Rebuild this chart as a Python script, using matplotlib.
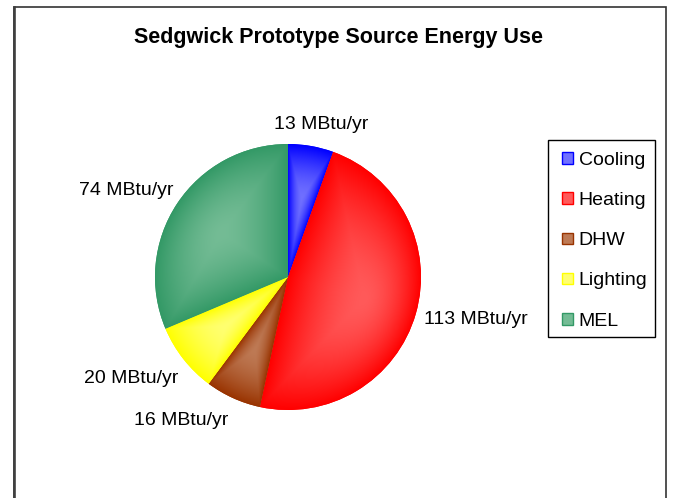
import numpy as np
import matplotlib
matplotlib.use("Agg")
import matplotlib.pyplot as plt
from matplotlib.patches import Patch, Rectangle
from matplotlib.lines import Line2D
from matplotlib.colors import to_rgb

plt.rcParams['font.family'] = ['Liberation Sans', 'DejaVu Sans']

# Annual source energy by end use (MBtu/yr)
categories = ["Cooling", "Heating", "DHW", "Lighting", "MEL"]
values = [13, 113, 16, 20, 74]
title = "Sedgwick Prototype Source Energy Use"
unit = "MBtu/yr"

# Edge (base) and highlight colours for each slice's shaded fill
base_colors = ["#0000FF", "#FF0000", "#993300", "#FFFF00", "#339966"]
light_colors = ["#7070FF", "#FF5A5A", "#BE7A55", "#FFFF70", "#74BC95"]

# Label offsets (pixels) from the outer rim at each slice's mid-angle
label_offsets = [(10, 21), (60, -6), (-52, -22), (-52, -19), (-51, 13)]

W, H = 673, 498
fig = plt.figure(figsize=(W / 100, H / 100), dpi=100)
fig.patch.set_facecolor("white")

cx, cy, R = 288, 277, 133
ax = fig.add_axes([(cx - R) / W, (H - cy - R) / H, 2 * R / W, 2 * R / H])

wedges, _ = ax.pie(values, colors=base_colors, startangle=90,
                   counterclock=False, radius=1,
                   wedgeprops=dict(linewidth=0))
ax.set_xlim(-1, 1)
ax.set_ylim(-1, 1)
ax.set_aspect("equal")
ax.axis("off")

# Path-style gradient: lighter toward a focus point inside each slice,
# darkening to the base colour at the slice outline.
N = 500
gx, gy = np.meshgrid(np.linspace(-1, 1, N), np.linspace(-1, 1, N))


def shade(wedge, base, light, focus_r=0.6, gamma=1.6):
    a1, a2 = np.radians(wedge.theta1), np.radians(wedge.theta2)
    mid = 0.5 * (a1 + a2)
    c = np.array([focus_r * np.cos(mid), focus_r * np.sin(mid)])
    dx, dy = gx - c[0], gy - c[1]
    s = np.zeros_like(gx)
    for n in (np.array([-np.sin(a1), np.cos(a1)]),
              np.array([np.sin(a2), -np.cos(a2)])):
        nd = n[0] * dx + n[1] * dy
        nc = n @ c
        s = np.maximum(s, np.where(nd < 0, -nd / nc, 0.0))
    cd = c[0] * dx + c[1] * dy
    dd = dx ** 2 + dy ** 2
    cc = c @ c
    root = -cd + np.sqrt(np.maximum(cd ** 2 - dd * (cc - 1), 0))
    sd = np.where(dd > 0, dd / np.maximum(root, 1e-9), 0.0)
    s = np.clip(np.maximum(s, sd), 0, 1)
    t = s ** gamma
    b = np.array(to_rgb(base))
    l = np.array(to_rgb(light))
    img = l[None, None, :] * (1 - t[..., None]) + b[None, None, :] * t[..., None]
    im = ax.imshow(img, extent=[-1, 1, -1, 1], origin="lower",
                   interpolation="bilinear", zorder=wedge.get_zorder() + 0.1)
    im.set_clip_path(wedge)


for w, bc, lc in zip(wedges, base_colors, light_colors):
    shade(w, bc, lc)

# Value labels placed from each slice's mid-angle
for w, v, off in zip(wedges, values, label_offsets):
    mid = np.radians(0.5 * (w.theta1 + w.theta2))
    ax.annotate(f"{v} {unit}", xy=(np.cos(mid), np.sin(mid)),
                xytext=off, textcoords="offset pixels",
                ha="center", va="center", fontsize=14, color="black",
                annotation_clip=False)

fig.text(338.5 / W, 1 - 37 / H, title, ha="center", va="center",
         fontsize=15.5, fontweight="bold")

# Legend entries, with a separately drawn frame
handles = [Patch(facecolor=lc, edgecolor=bc, linewidth=1.0)
           for bc, lc in zip(base_colors, light_colors)]
leg = fig.legend(handles, categories, loc="upper left",
                 bbox_to_anchor=(562 / W, 1 - 152 / H),
                 bbox_transform=fig.transFigure,
                 frameon=False, borderaxespad=0, borderpad=0, fontsize=14,
                 handlelength=0.55, handleheight=0.55,
                 handletextpad=0.31, labelspacing=1.19)
fig.add_artist(Rectangle((548 / W, 1 - 337 / H), 107 / W, 197 / H,
                         transform=fig.transFigure, fill=False,
                         edgecolor="black", linewidth=1.0))

# Chart-area border
fig.add_artist(Rectangle((14 / W, -0.1), 652 / W, 1.1 - 7 / H,
                         transform=fig.transFigure, fill=False,
                         edgecolor="#333333", linewidth=1.2))
fig.add_artist(Line2D([14 / W, 14 / W], [0, 1 - 7 / H],
                      transform=fig.transFigure, color="#404040",
                      linewidth=1.9))

fig.savefig("out.png", dpi=100, facecolor="white")
